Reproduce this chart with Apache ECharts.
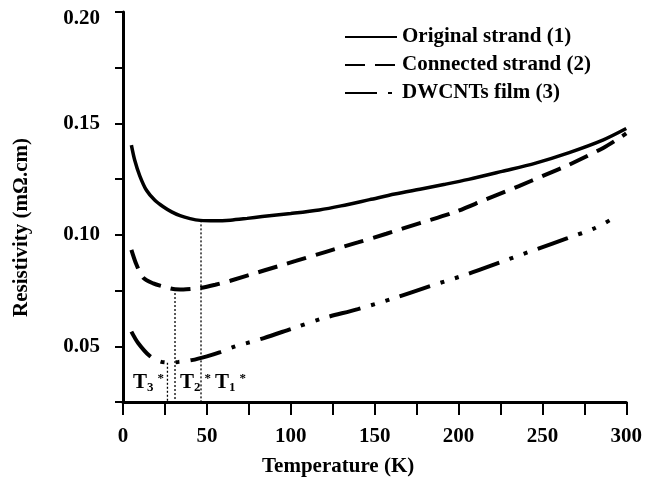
<!DOCTYPE html>
<html>
<head>
<meta charset="utf-8">
<script src="https://cdn.jsdelivr.net/npm/echarts@6/dist/echarts.min.js"></script>
<style>
  html, body { margin: 0; padding: 0; background: #fff; }
  #chart { width: 645px; height: 482px; }
</style>
</head>
<body>
<div id="chart"></div>
<script>
var seriesNames = ['Original strand (1)', 'Connected strand (2)', 'DWCNTs film (3)'];

var temp1 = [5, 7, 10, 14, 19, 24, 29, 34, 40, 46, 55, 64, 74, 83, 100, 117, 130, 147, 162, 177, 192, 206, 226, 246, 266, 286, 300];
var rho1 = [0.1403, 0.1335, 0.1265, 0.1200, 0.1155, 0.1126, 0.1103, 0.1086, 0.1073, 0.1065, 0.1063, 0.1066, 0.1074, 0.1082, 0.1096, 0.1112, 0.1130, 0.1158, 0.1183, 0.1205, 0.1227, 0.1249, 0.1285, 0.1322, 0.1369, 0.1425, 0.1477];

var temp2 = [5, 8, 12, 18, 24, 30, 36, 42, 46, 55, 64, 84, 103, 121, 140, 157, 177, 197, 216, 236, 251, 266, 286, 297, 300];
var rho2 = [0.0933, 0.0867, 0.0808, 0.0782, 0.0768, 0.0757, 0.0755, 0.0758, 0.0761, 0.0776, 0.0794, 0.0840, 0.0883, 0.0924, 0.0966, 0.1005, 0.1053, 0.1100, 0.1158, 0.1219, 0.1267, 0.1315, 0.1389, 0.1440, 0.1455];

var temp3 = [5, 9, 16, 22, 27, 33, 41, 50, 58, 67, 76, 84, 101, 119, 140, 162, 183, 205, 226, 247, 265, 281, 290];
var rho3 = [0.0566, 0.0515, 0.0456, 0.0432, 0.0427, 0.0430, 0.0438, 0.0455, 0.0474, 0.0500, 0.0519, 0.0537, 0.0580, 0.0625, 0.0667, 0.0717, 0.0770, 0.0823, 0.0880, 0.0937, 0.0985, 0.1029, 0.1065];

// transition temperatures T1*, T2*, T3* and where their dotted lines start
var tNames = ['1', '2', '3'];
var tTemps = [46.5, 31, 26.5];
var tTops = [0.1065, 0.0757, 0.0426];

var xTicks = [0, 50, 100, 150, 200, 250, 300];
var yTicks = ['0.05', '0.10', '0.15', '0.20'];

function zip(xs, ys) {
  var out = [];
  for (var i = 0; i < xs.length; i++) out.push([xs[i], ys[i]]);
  return out;
}

var font = 'Liberation Serif';
var txt = { color: '#000', fontFamily: font, fontWeight: 'bold', fontSize: 21 };

var series = [
  {
    name: seriesNames[0], type: 'line', data: zip(temp1, rho1),
    symbol: 'none', smooth: 0.3,
    itemStyle: { color: '#000' },
    lineStyle: { color: '#000', width: 3.5, type: 'solid' }
  },
  {
    name: seriesNames[1], type: 'line', data: zip(temp2, rho2),
    symbol: 'none', smooth: 0.3,
    itemStyle: { color: '#000' },
    lineStyle: { color: '#000', width: 4, type: [20, 10] }
  },
  {
    name: seriesNames[2], type: 'line', data: zip(temp3, rho3),
    symbol: 'none', smooth: 0.3,
    itemStyle: { color: '#000' },
    lineStyle: { color: '#000', width: 4, type: [32, 11, 4, 11, 4, 11] }
  }
];

for (var i = 0; i < tTemps.length; i++) {
  series.push({
    name: 'T' + tNames[i], type: 'line', symbol: 'none', silent: true,
    data: [[tTemps[i], tTops[i]], [tTemps[i], 0.025]],
    lineStyle: { color: '#000', width: 1.3, type: [2, 2] }
  });
}

function tLabel(n) {
  return '{t|T}{s|' + n + '}{p|*}';
}
var tRich = {
  t: { fontFamily: font, fontWeight: 'bold', fontSize: 21, lineHeight: 22, fill: '#000' },
  s: { fontFamily: font, fontWeight: 'bold', fontSize: 13, lineHeight: 14, verticalAlign: 'bottom', fill: '#000' },
  p: { fontFamily: font, fontWeight: 'bold', fontSize: 13, lineHeight: 14, verticalAlign: 'top', fill: '#000', padding: [0, 0, 0, 4] }
};

var chart = echarts.init(document.getElementById('chart'), null, { renderer: 'canvas' });
chart.setOption({
  animation: false,
  backgroundColor: '#fff',
  grid: { left: 123, right: 17, top: 12, bottom: 75 },
  legend: {
    data: seriesNames,
    orient: 'vertical',
    left: 339,
    top: 21,
    itemWidth: 52,
    itemHeight: 14,
    itemGap: 6,
    itemStyle: { color: 'rgba(0,0,0,0)', borderWidth: 0 },
    textStyle: { color: '#000', fontFamily: font, fontWeight: 'bold', fontSize: 21, lineHeight: 22, padding: [0, 0, 0, 0] }
  },
  xAxis: {
    type: 'value', min: 0, max: 300, interval: 25,
    name: 'Temperature (K)', nameLocation: 'middle', nameGap: 54,
    nameTextStyle: Object.assign({}, txt, { padding: [0, 73, 0, 0] }),
    axisLine: { lineStyle: { color: '#000', width: 3 } },
    axisTick: { length: 13, lineStyle: { color: '#000', width: 2 } },
    axisLabel: Object.assign({}, txt, {
      margin: 24,
      formatter: function (v) { return xTicks.indexOf(v) >= 0 ? String(v) : ''; }
    }),
    splitLine: { show: false }
  },
  yAxis: {
    type: 'value', min: 0.025, max: 0.2, interval: 0.025,
    name: 'Resistivity (mΩ.cm)', nameLocation: 'middle', nameGap: 91, nameRotate: 90,
    nameTextStyle: Object.assign({}, txt, { padding: [0, 41, 0, 0] }),
    axisLine: { lineStyle: { color: '#000', width: 3 } },
    axisTick: { length: 8, lineStyle: { color: '#000', width: 2 } },
    axisLabel: Object.assign({}, txt, {
      margin: 23,
      formatter: function (v) {
        if (Math.abs(v * 20 - Math.round(v * 20)) > 1e-6) return '';
        var s = v.toFixed(2);
        if (yTicks.indexOf(s) < 0) return '';
        return s === '0.20' ? '{top|' + s + '}' : s;
      },
      rich: { top: { color: '#000', fontFamily: font, fontWeight: 'bold', fontSize: 21, padding: [14, 0, 0, 0] } }
    }),
    splitLine: { show: false }
  },
  graphic: [
    { type: 'text', left: 133, top: 372, style: { text: tLabel(tNames[2]), rich: tRich } },
    { type: 'text', left: 180, top: 372, style: { text: tLabel(tNames[1]), rich: tRich } },
    { type: 'text', left: 215, top: 372, style: { text: tLabel(tNames[0]), rich: tRich } }
  ],
  series: series
});
</script>
</body>
</html>
